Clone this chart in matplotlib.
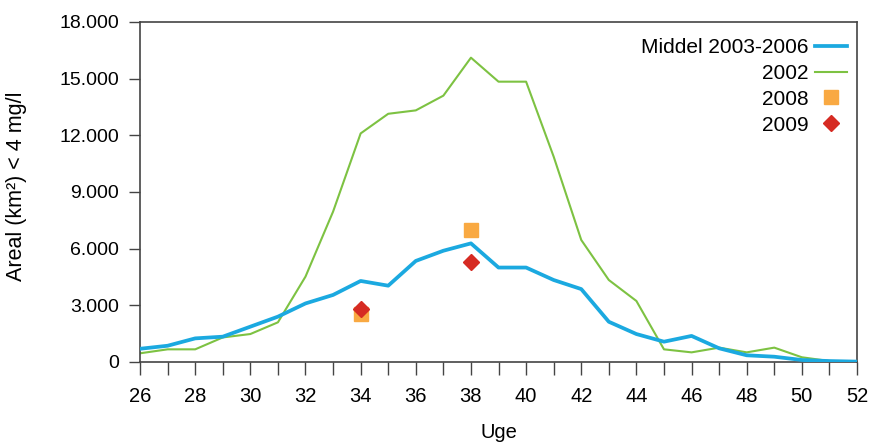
# Areal med lav iltkoncentration, uge 26-52
import matplotlib.pyplot as plt
from matplotlib.ticker import FuncFormatter

plt.rcParams['font.family'] = ['Liberation Sans', 'DejaVu Sans']

# Data (aflaest fra figuren)
uger = list(range(26, 53))
middel = [700, 860, 1250, 1340, 1870, 2400, 3100, 3550, 4290, 4040, 5350, 5890,
          6280, 5000, 5000, 4340, 3860, 2130, 1480, 1075, 1380, 725, 355, 280,
          106, 50, 20]
aar2002 = [460, 670, 670, 1300, 1480, 2100, 4520, 7960, 12100, 13140, 13320,
           14100, 16110, 14840, 14840, 10870, 6460, 4340, 3230, 670, 510, 760,
           510, 760, 250, 50, 0]
uger2008 = [34, 38]
aar2008 = [2520, 6990]
uger2009 = [34, 38]
aar2009 = [2790, 5290]

blue = "#1ba9e0"
green = "#7dc242"
orange = "#f9a942"
red = "#d62b23"

fig = plt.figure(figsize=(8.72, 4.44), dpi=100)
ax = fig.add_axes([0.1606, 0.1847, 0.8222, 0.7658])

ax.plot(uger, middel, color=blue, lw=2.7, label="Middel 2003-2006", zorder=3)
ax.plot(uger, aar2002, color=green, lw=1.5, label="2002", zorder=2)
ax.plot(uger2008, aar2008, ls="none", marker="s", ms=10, color=orange,
        label="2008", zorder=4)
ax.plot(uger2009, aar2009, ls="none", marker="D", ms=8, color=red,
        label="2009", zorder=5)

ax.set_xlim(26, 52)
ax.set_ylim(0, 18000)
ax.set_xticks(range(26, 53, 2))
ax.set_xticks(range(26, 53), minor=True)
ax.set_yticks(range(0, 18001, 3000))
ax.yaxis.set_major_formatter(FuncFormatter(lambda v, p: f"{int(v):,}".replace(",", ".")))

for s in ax.spines.values():
    s.set_color("#444444")
    s.set_linewidth(1.2)
ax.tick_params(axis="x", which="both", direction="out", length=9, width=1,
               color="#444444", labelsize=14.5, pad=9)
ax.tick_params(axis="y", direction="out", length=8, width=1,
               color="#444444", labelsize=14, pad=7)

ax.set_xlabel("Uge", fontsize=14.5)
ax.set_ylabel("Areal (km²) < 4 mg/l", fontsize=15.5)
ax.yaxis.set_label_coords(-0.158, 0.518)
ax.xaxis.set_label_coords(0.5, -0.178)

leg = ax.legend(loc="upper right", frameon=False, markerfirst=False,
                fontsize=15, handlelength=1.55, handletextpad=0.3,
                labelspacing=0.33, borderpad=0, borderaxespad=0,
                bbox_to_anchor=(0.986, 0.953))

fig.savefig("out.png", dpi=100)
